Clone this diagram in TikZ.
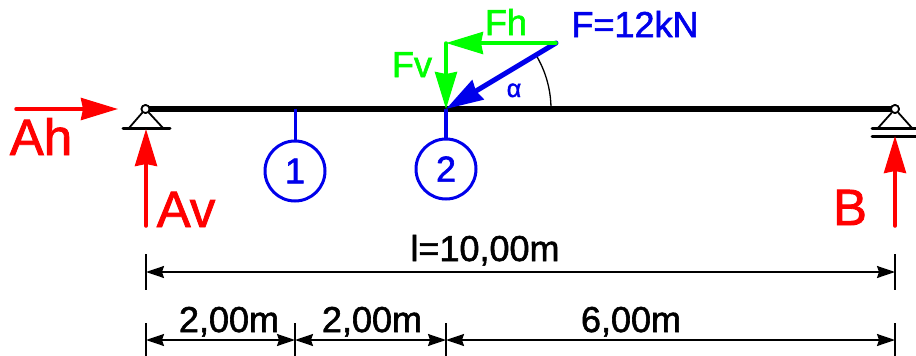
\documentclass[tikz,border=0pt]{standalone}
\usepackage{fontspec}
\setmainfont[FakeBold=1.6]{Liberation Sans}
\usetikzlibrary{arrows.meta}
\definecolor{loadred}{RGB}{255,0,0}
\definecolor{loadblue}{RGB}{0,0,235}
\definecolor{loadgreen}{RGB}{0,255,0}
\begin{document}
\begin{tikzpicture}
            [x=1pt,y=-1pt,
            Label/.style={inner sep=0pt,anchor=base},
            Big/.style={Label,text=loadred,font=\fontsize{51}{51}\selectfont},
            Mid/.style={Label,font=\fontsize{36}{36}\selectfont},
            Hinge/.style={circle,draw=black,fill=white,line width=1.7pt,minimum size=8pt,inner sep=0pt},
            Section/.style={circle,draw=loadblue,line width=3pt,minimum size=60pt,inner sep=0pt,text=loadblue,font=\fontsize{36}{36}\selectfont},
            Force/.style={line width=3.5pt,line cap=round,-{Stealth[length=37pt,width=22pt,inset=2pt]}},
            Dim/.style={line width=1.6pt,black,{Stealth[length=18pt,width=12pt,inset=2pt]}-{Stealth[length=18pt,width=12pt,inset=2pt]}},
            Tick/.style={line width=1.5pt,black},
            Base/.style={line width=3pt,black,line cap=round}];
            \useasboundingbox (0,0) rectangle (916,356);
            % beam and supports
            \node[Hinge] (a) at (145.5,109) {};
            \node[Hinge] (b) at (895,109) {};
            \coordinate (al) at (129,128);
            \coordinate (ar) at (163,128);
            \coordinate (bl) at (878,128);
            \coordinate (br) at (912,128);
            \coordinate (a1) at (123,128);
            \coordinate (a2) at (170,128);
            \coordinate (b1) at (872,128);
            \coordinate (b2) at (916,128);
            \coordinate (b3) at (872,136);
            \coordinate (b4) at (916,136);
            \draw [line width=1.8pt] (al) -- (a) -- (ar);
            \draw [line width=1.8pt] (bl) -- (b) -- (br);
            \draw [Base] (a1) -- (a2);
            \draw [Base] (b1) -- (b2);
            \draw [Base] (b3) -- (b4);
            \coordinate (p1) at (295,109);
            \coordinate (p2) at (446,109);
            \draw [line width=6.5pt,black] (a.center) -- (b.center);
            \node[Hinge] at (a) {};
            \node[Hinge] at (b) {};
            % sections
            \node[Section] (s1) at (295,171) {1};
            \node[Section] (s2) at (446,169) {2};
            \draw [loadblue,line width=3pt] (p1) -- (s1);
            \draw [loadblue,line width=4pt] (p2) -- (s2);
            % load
            \coordinate (f0) at (556,43);
            \coordinate (f1) at (446,43);
            \draw [black,line width=1.3pt] (536,55) arc [start angle=-31,end angle=0,radius=105];
            \draw [Force,loadblue,line width=5pt] (f0) -- (p2);
            \draw [Force,loadgreen] (f0) -- (f1);
            \draw [Force,loadgreen] (f1) -- (p2);
            \node[Mid,text=loadblue] (f) at (635,37) {F=12kN};
            \node[Mid,text=loadgreen] (fh) at (506,35) {Fh};
            \node[Mid,text=loadgreen] (fv) at (412,77) {Fv};
            \node[Label,text=loadblue,font=\fontsize{25}{25}\selectfont] (alpha) at (514,97) {α};
            % reactions
            \coordinate (ah0) at (16,109);
            \coordinate (ah1) at (118,109);
            \coordinate (av0) at (146,226);
            \coordinate (av1) at (146,129);
            \coordinate (b0) at (895,226);
            \coordinate (bt) at (895,136);
            \draw [Force,loadred] (ah0) -- (ah1);
            \draw [Force,loadred] (av0) -- (av1);
            \draw [Force,loadred] (b0) -- (bt);
            \node[Big] (ah) at (41,155) {Ah};
            \node[Big] (av) at (186,227) {Av};
            \node[Big] (bb) at (850,225) {B};
            % dimensions
            \coordinate (t1) at (146,272);
            \coordinate (t2) at (895,272);
            \coordinate (d1) at (146,340);
            \coordinate (d2) at (295,340);
            \coordinate (d3) at (446,340);
            \coordinate (d4) at (895,340);
            \draw [Dim] (t1) -- (t2);
            \draw [Dim] (d1) -- (d2);
            \draw [Dim] (d2) -- (d3);
            \draw [Dim] (d3) -- (d4);
            \foreach \n/\x in {t1/146,t2/895} {
                \draw [Tick] (\x,254) -- (\n) -- (\x,290);
            }
            \foreach \n/\x in {d1/146,d2/295,d3/446,d4/895} {
                \draw [Tick] (\x,323) -- (\n) -- (\x,356);
            }
            \node[Mid] (l) at (485,261) {l=10,00m};
            \node[Mid] (l1) at (229,332) {2,00m};
            \node[Mid] (l2) at (372,332) {2,00m};
            \node[Mid] (l3) at (631,332) {6,00m};
        \end{tikzpicture}
\end{document}
